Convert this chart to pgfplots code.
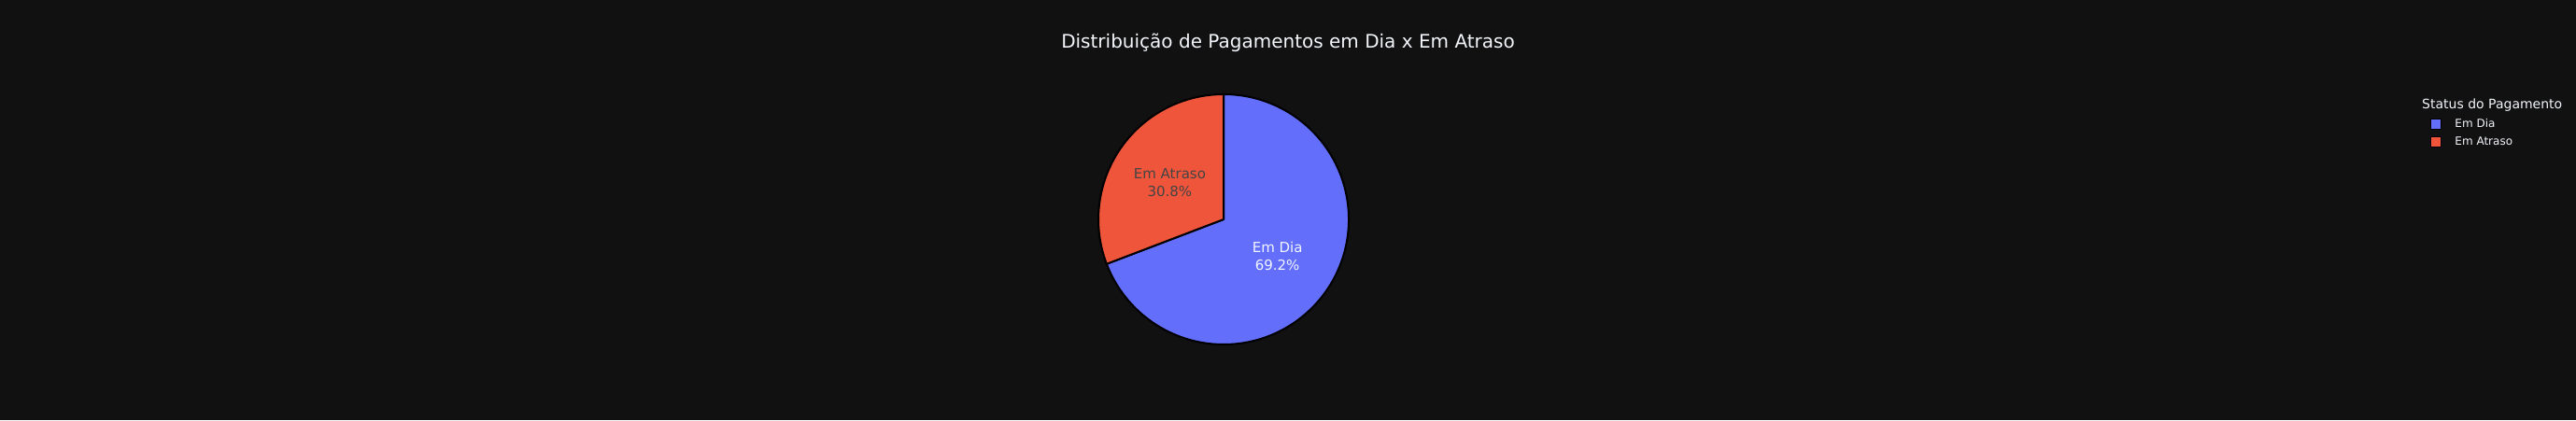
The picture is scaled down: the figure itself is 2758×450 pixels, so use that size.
\documentclass[border=0pt]{standalone}
\usepackage{pgfplots}
\pgfplotsset{compat=1.18}
\usepackage{pgfplotstable}
\usepackage{fontspec}
\setmainfont{DejaVu Sans}

\definecolor{bg}{HTML}{111111}
\definecolor{cdia}{HTML}{636EFA}
\definecolor{catraso}{HTML}{EF553B}
\definecolor{ftxt}{HTML}{F2F5FA}
\definecolor{dtxt}{HTML}{444444}

\pgfplotstableread{
label value
{Em Dia} 69.2
{Em Atraso} 30.8
}\piedata

\begin{document}
\begin{tikzpicture}[x=1pt,y=1pt]
\pgfplotstablegetelem{0}{value}\of\piedata \let\vdia\pgfplotsretval
\pgfplotstablegetelem{1}{value}\of\piedata \let\vatr\pgfplotsretval
\pgfmathsetmacro\aA{90}
\pgfmathsetmacro\aB{90-3.6*\vdia}
\pgfmathsetmacro\aC{\aB-3.6*\vatr}
\pgfmathsetmacro\mA{(\aA+\aB)/2}
\pgfmathsetmacro\mB{(\aB+\aC)/2}
\fill[bg] (0,0) rectangle (2758,450);
\begin{axis}[at={(0,0)}, anchor=south west, scale only axis,
  width=2758pt, height=450pt, xmin=0, xmax=2758, ymin=0, ymax=450,
  y dir=reverse, hide axis, clip=false,
  /pgf/number format/assume math mode=true,
  legend style={at={(axis cs:2602,126)}, anchor=north west, fill=none, draw=none,
    text=ftxt, font=\fontsize{12}{14}\selectfont, row sep=5pt, column sep=13pt, inner sep=0pt,
    nodes={inner sep=1pt, text depth=3pt, text height=9pt}},
  legend cell align=left]
\addlegendimage{legend image code/.code={\draw[fill=cdia,draw=black,line width=1.2pt] (0pt,-5.5pt) rectangle (11pt,5.5pt);}}
\addlegendentry{Em Dia}
\addlegendimage{legend image code/.code={\draw[fill=catraso,draw=black,line width=1.2pt] (0pt,-5.5pt) rectangle (11pt,5.5pt);}}
\addlegendentry{Em Atraso}
\filldraw[fill=cdia, draw=black, line width=2pt, line join=round]
  (axis cs:1310,235) -- ++(\aA:134pt) arc[start angle=\aA, end angle=\aB, radius=134pt] -- cycle;
\filldraw[fill=catraso, draw=black, line width=2pt, line join=round]
  (axis cs:1310,235) -- ++(\aB:134pt) arc[start angle=\aB, end angle=\aC, radius=134pt] -- cycle;
\path (axis cs:1310,235) ++(\mA:70pt) node[text=ftxt, align=center, font=\fontsize{15}{19}\selectfont]
  {Em Dia\\\pgfmathprintnumber[fixed,precision=1,fixed zerofill,assume math mode=true]{\vdia}\%};
\path (axis cs:1310,235) ++(\mB:70pt) node[text=dtxt, align=center, font=\fontsize{15}{19}\selectfont]
  {Em Atraso\\\pgfmathprintnumber[fixed,precision=1,fixed zerofill,assume math mode=true]{\vatr}\%};
\node[text=ftxt, anchor=base, inner sep=0pt, font=\fontsize{20}{24}\selectfont]
  at (axis cs:1379,51.5) {Distribuição de Pagamentos em Dia x Em Atraso};
\node[text=ftxt, anchor=west, inner sep=0pt, font=\fontsize{14}{17}\selectfont]
  at (axis cs:2593,113) {Status do Pagamento};
\end{axis}
\pgfresetboundingbox
\path[use as bounding box] (0,0) rectangle (2758,450);
\end{tikzpicture}
\end{document}
